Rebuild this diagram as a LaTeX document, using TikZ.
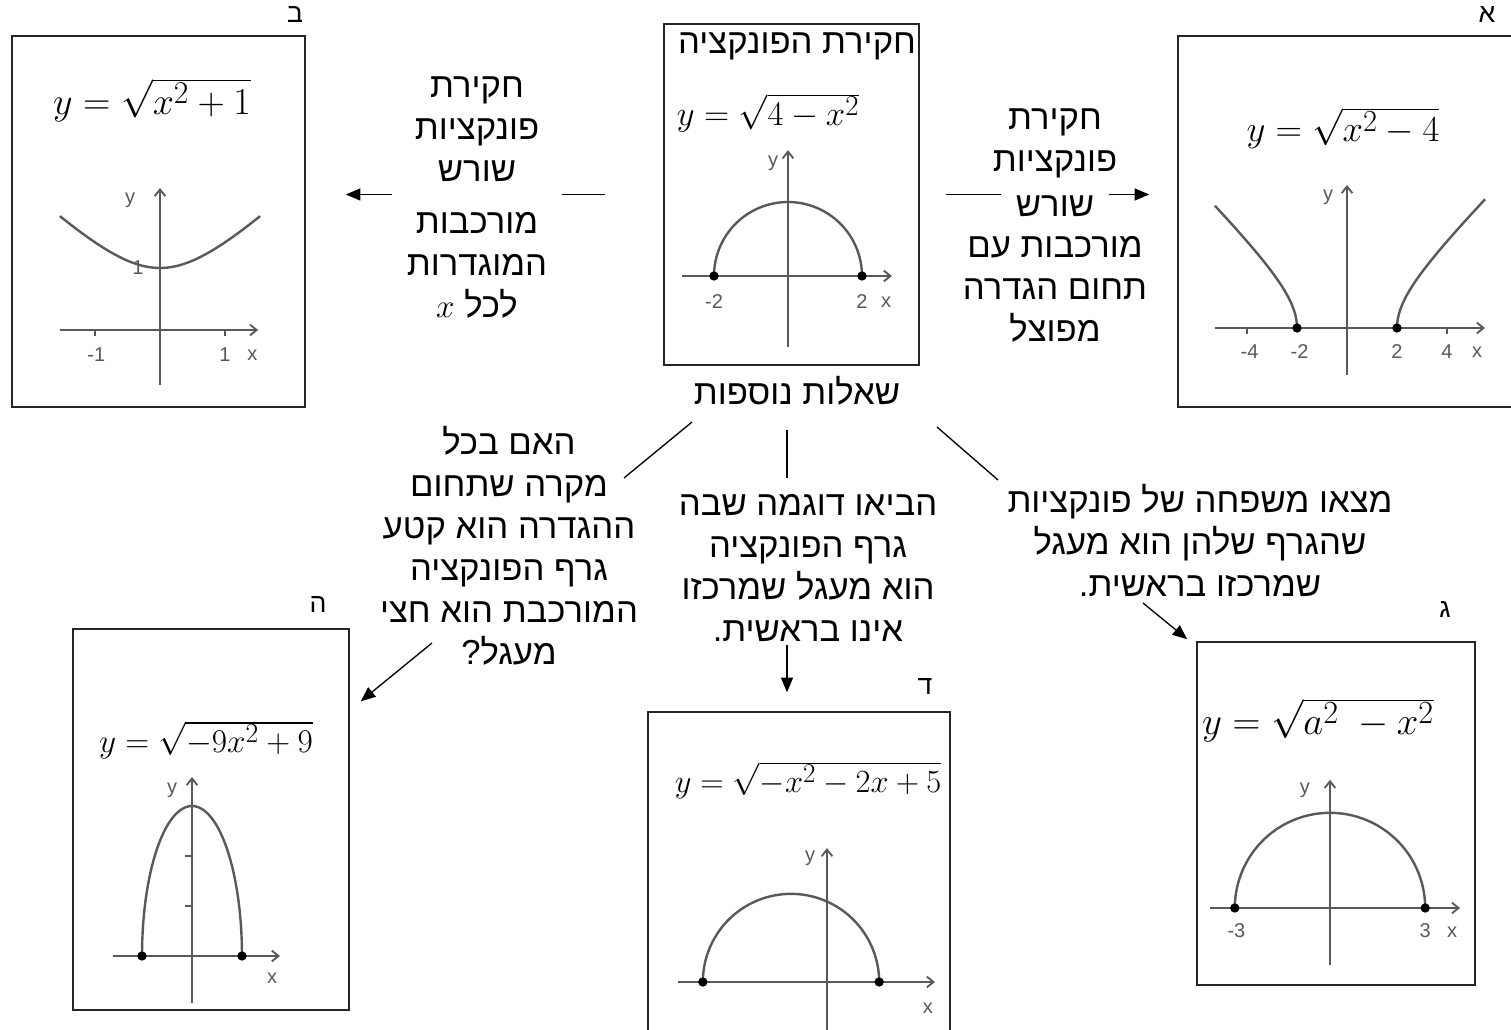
\documentclass[tikz,border=0pt]{standalone}
\usepackage{fontspec}
\newfontfamily\hebfont[Script=Hebrew]{Liberation Sans}
\newfontfamily\axfont{Liberation Sans}
\TeXXeTstate=1
\usetikzlibrary{arrows.meta,positioning}
\newcommand{\rl}[1]{\beginR#1\endR}
\tikzset{
  frame/.style={draw=black!85, line width=1.1pt, inner sep=0pt},
  heb/.style={font=\hebfont\fontsize{26}{31.5}\selectfont, align=center, inner sep=0pt},
  tag/.style={font=\hebfont\fontsize{20}{24}\selectfont, inner sep=0pt},
  formula/.style={inner sep=0pt, font=\fontsize{24.88}{30}\selectfont},
  axis/.style={gray!70!black, line width=1.4pt, -{Straight Barb[length=5pt,width=8pt]}},
  tick/.style={gray!70!black, line width=1pt},
  curve/.style={gray!70!black, line width=1.8pt},
  lbl/.style={gray!70!black, font=\axfont\fontsize{15}{18}\selectfont, inner sep=1pt},
  conn/.style={line width=1pt},
  arr/.style={line width=1pt, -{Triangle[length=11pt,width=9pt]}}
}
\begin{document}
\begin{tikzpicture}[x=0.75pt,y=-0.75pt]
\useasboundingbox (0,0) rectangle (1511,1030);
\fill[white] (0,0) rectangle (1511,1030);
\clip (0,0) rectangle (1511,1030);

% boxes
\node[frame, minimum width=219.75pt, minimum height=278.25pt] (bB) at (158.5,221.5) {};
\node[frame, minimum width=191.25pt, minimum height=255.75pt] (cb) at (791.5,194.5) {};
\node[frame, minimum width=256.5pt, minimum height=278.25pt] (bA) at (1349,221.5) {};
\node[frame, minimum width=207pt, minimum height=285.75pt] (bE) at (211,819.5) {};
\node[frame, minimum width=226.5pt, minimum height=246pt] (bD) at (799,876) {};
\node[frame, minimum width=208.5pt, minimum height=257.25pt] (bG) at (1336,813.5) {};

\node[tag] (tB) at (295,15) {\rl{ב}};
\node[tag] (tA) at (1487,15) {\rl{א}};
\node[tag] (tE) at (318,605) {\rl{ה}};
\node[tag] (tD) at (925,687) {\rl{ד}};
\node[tag] (tG) at (1445,610) {\rl{ג}};

% formulas
\node[formula, scale=1.145] (fB) at (152,100) {$y=\sqrt{x^2+1}$};
\node[formula, scale=1.045] (fC) at (768,113) {$y=\sqrt{4-x^2}$};
\node[formula, scale=1.105] (fA) at (1343,128) {$y=\sqrt{x^2-4}$};
\node[formula] (fE) at (206,740) {$y=\sqrt{-9x^2+9}$};
\node[formula, scale=0.977] (fD) at (808,780) {$y=\sqrt{-x^2-2x+5}$};
\node[formula, scale=1.166] (fG) at (1318,720) {$y=\sqrt{a^2\;-x^2}$};
\node[heb] (ttl) at (797,46) {\rl{חקירת הפונקציה}};

% graph b
\begin{scope}[shift={(160,330)}, x=48.75pt, y=46.5pt]
\draw[axis] (-1.54,0) -- (1.51,0);
\draw[axis] (0,-0.89) -- (0,2.29);
\draw[tick] (-1,0) -- (-1,-0.1) (1,0) -- (1,-0.1);
\draw[curve] plot[domain=-1.54:1.54, samples=60] (\x,{sqrt(\x*\x+1)});
\node[lbl] (bm1) at (-0.98,-0.4) {-1};
\node[lbl] (bp1) at (1,-0.4) {1};
\node[lbl] (bx) at (1.42,-0.4) {x};
\node[lbl] (by) at (-0.46,2.1) {y};
\node[lbl] (b1) at (-0.34,1) {1};
\end{scope}

% graph center
\begin{scope}[shift={(788,276)}, x=27.75pt, y=27.75pt]
\draw[axis] (-2.86,0) -- (2.81,0);
\draw[axis] (0,-1.92) -- (0,3.4);
\draw[curve] plot[domain=180:0, samples=60] ({2*cos(\x)},{2*sin(\x)});
\fill (-2,0) circle[radius=3.5pt] (2,0) circle[radius=3.5pt];
\node[lbl] (cm2) at (-2,-0.7) {-2};
\node[lbl] (cp2) at (2,-0.7) {2};
\node[lbl] (cx) at (2.65,-0.7) {x};
\node[lbl] (cy) at (-0.4,3.05) {y};
\end{scope}

% graph a
\begin{scope}[shift={(1347,328)}, x=18.75pt, y=18.75pt]
\draw[axis] (-5.28,0) -- (5.52,0);
\draw[axis] (0,-1.88) -- (0,5.72);
\draw[tick] (-4,0) -- (-4,-0.25) (4,0) -- (4,-0.25);
\draw[curve] plot[domain=0:4.89, samples=60] ({-sqrt(\x*\x+4)},\x);
\draw[curve] plot[domain=0:5.15, samples=60] ({sqrt(\x*\x+4)},\x);
\fill (-2,0) circle[radius=3.5pt] (2,0) circle[radius=3.5pt];
\node[lbl] (am4) at (-3.9,-0.96) {-4};
\node[lbl] (am2) at (-1.9,-0.96) {-2};
\node[lbl] (ap2) at (2,-0.96) {2};
\node[lbl] (ap4) at (4,-0.96) {4};
\node[lbl] (ax) at (5.2,-0.96) {x};
\node[lbl] (ay) at (-0.76,5.24) {y};
\end{scope}

% graph e
\begin{scope}[shift={(192,956)}, x=37.5pt, y=37.5pt]
\draw[axis] (-1.58,0) -- (1.76,0);
\draw[axis] (0,-0.94) -- (0,3.58);
\draw[tick] (-0.14,1) -- (0,1) (-0.14,2) -- (0,2);
\draw[curve] plot[domain=180:0, samples=60] ({cos(\x)},{3*sin(\x)});
\fill (-1,0) circle[radius=3.5pt] (1,0) circle[radius=3.5pt];
\node[lbl] (ex) at (1.6,-0.44) {x};
\node[lbl] (ey) at (-0.4,3.32) {y};
\end{scope}

% graph d
\begin{scope}[shift={(827,982)}, x=27pt, y=27pt]
\draw[axis] (-4.14,0) -- (3.0,0);
\draw[axis] (0,-1.6) -- (0,3.72);
\draw[curve] plot[domain=180:0, samples=60] ({-1+2.449*cos(\x)},{2.449*sin(\x)});
\fill (-3.449,0) circle[radius=3.5pt] (1.449,0) circle[radius=3.5pt];
\node[lbl] (dx) at (2.8,-0.72) {x};
\node[lbl] (dy) at (-0.47,3.44) {y};
\end{scope}

% graph g
\begin{scope}[shift={(1330,908)}, x=23.8pt, y=23.8pt]
\draw[axis] (-3.79,0) -- (4.1,0);
\draw[axis] (0,-1.8) -- (0,4.04);
\draw[curve] plot[domain=180:0, samples=60] ({3*cos(\x)},{3*sin(\x)});
\fill (-3,0) circle[radius=3.5pt] (3,0) circle[radius=3.5pt];
\node[lbl] (gm3) at (-2.95,-0.7) {-3};
\node[lbl] (gp3) at (3,-0.7) {3};
\node[lbl] (gx) at (3.85,-0.75) {x};
\node[lbl] (gy) at (-0.79,3.72) {y};
\end{scope}

% texts
\node[heb, inner xsep=11pt] (lt) at (477,197) {\rl{חקירת}\\\rl{פונקציות}\\\rl{שורש}\\[7.5pt]\rl{מורכבות}\\\rl{המוגדרות}\\\rl{לכל $x$}};
\node[heb] (rt1) at (1055,143) {\rl{חקירת}\\\rl{פונקציות}};
\node[heb, inner xsep=11pt] (rt2) at (1055,206) {\rl{שורש}};
\node[heb] (rt3) at (1055,289) {\rl{מורכבות עם}\\\rl{תחום הגדרה}\\\rl{מפוצל}};
\node[heb] (q) at (797,391) {\rl{שאלות נוספות}};
\node[heb] (lq) at (509,546) {\rl{האם בכל}\\\rl{מקרה שתחום}\\\rl{ההגדרה הוא קטע}\\\rl{גרף הפונקציה}\\\rl{המורכבת הוא חצי}\\\rl{מעגל?}};
\node[heb] (mq) at (808,568) {\rl{הביאו דוגמה שבה}\\\rl{גרף הפונקציה}\\\rl{הוא מעגל שמרכזו}\\\rl{אינו בראשית.}};
\node[heb] (rq) at (1200,540) {\rl{מצאו משפחה של פונקציות}\\\rl{שהגרף שלהן הוא מעגל}\\\rl{שמרכזו בראשית.}};

% connectors
\draw[conn, shorten <=44pt] (cb.west) -- (cb.west -| lt.east);
\draw[arr, shorten >=30pt] (lt.west |- cb.west) -- (bB.east |- cb.west);
\draw[conn, shorten <=19.5pt] (cb.east) -- (cb.east -| rt2.west);
\draw[arr, shorten >=21pt] (rt2.east |- cb.east) -- (bA.west |- cb.east);
\draw[conn] ([shift={(-105,31)}]q.center) -- ([shift={(115,-68)}]lq.center);
\draw[arr] ([shift={(-77,97)}]lq.center) -- ([shift={(11,73)}]bE.north east);
\draw[conn] ([shift={(-10,39)}]q.center) -- ([shift={(-21,-90)}]mq.center);
\draw[arr] ([shift={(-21,77)}]mq.center) -- ([shift={(-12,-19)}]bD.north);
\draw[conn] ([shift={(140,36)}]q.center) -- ([shift={(-202,-60)}]rq.center);
\draw[arr] ([shift={(-57,63)}]rq.center) -- ([shift={(-9,-2)}]bG.north west);
\end{tikzpicture}
\end{document}
